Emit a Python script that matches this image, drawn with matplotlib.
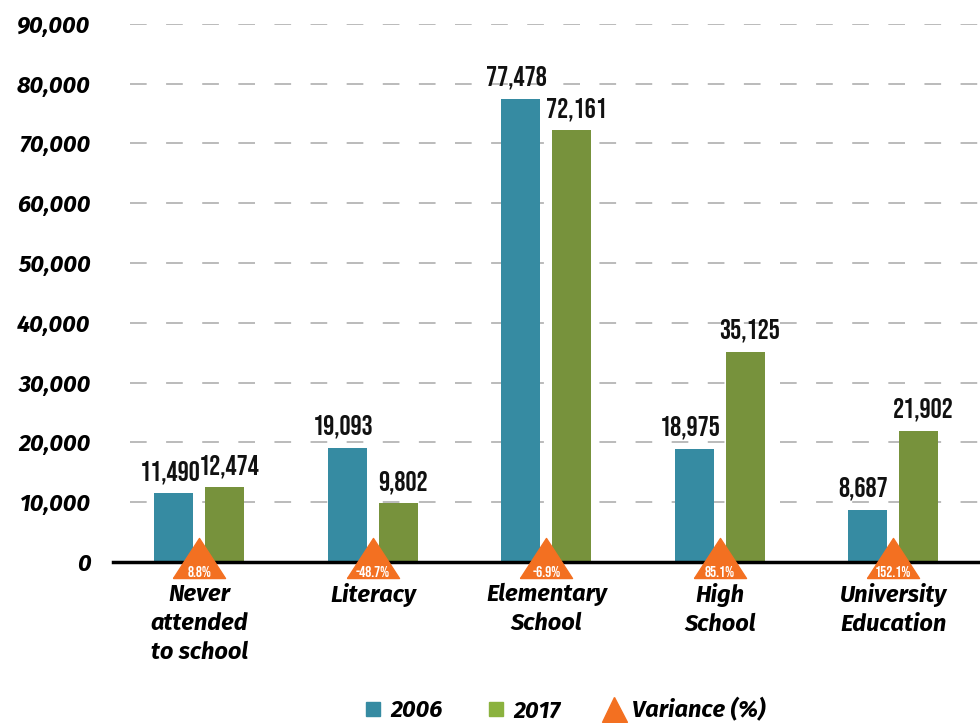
import matplotlib.pyplot as plt
import numpy as np

plt.rcParams['lines.scale_dashes'] = False
plt.rcParams['font.family'] = ['Fira Sans', 'DejaVu Sans']

categories = ['Never\nattended\nto school', 'Literacy', 'Elementary\nSchool', 'High\nSchool', 'University\nEducation']
values_2006 = [11490, 19093, 77478, 18975, 8687]
values_2017 = [12474, 9802, 72161, 35125, 21902]
variance = ['8.8%', '-48.7%', '-6.9%', '85.1%', '152.1%']

c2006 = '#368ba2'
c2017 = '#77923c'
corange = '#f37021'
narrow = ['Bebas Neue', 'DejaVu Sans']

fig = plt.figure(figsize=(9.8, 7.23), dpi=100)
ax = fig.add_axes([0.115, 0.2227, 0.885, 0.7445])

x = np.arange(len(categories))
width = 0.225
off = 0.147

bars_a = ax.bar(x - off, values_2006, width, color=c2006, zorder=3)
bars_b = ax.bar(x + off, values_2017, width, color=c2017, zorder=3)

# value labels, nudged slightly apart
for bars, dx in [(bars_a, -3), (bars_b, 3)]:
    for bar in bars:
        h = bar.get_height()
        ax.annotate(f'{int(h):,}', xy=(bar.get_x() + bar.get_width() / 2, h),
                    xytext=(dx, 7), textcoords='offset points',
                    ha='center', va='bottom', fontsize=20,
                    family=narrow, color='#111111', zorder=5)

# variance triangles on the baseline
tri = [(-0.65, -0.4), (0.65, -0.4), (0.0, 0.6), (-0.65, -0.4)]
ax.plot(x, [0] * len(x), marker=tri, markersize=37.5, linestyle='none',
        color=corange, clip_on=False, zorder=6)
for xi, v in zip(x, variance):
    ax.annotate(v, xy=(xi, 0), xytext=(0, -6.5), textcoords='offset points',
                ha='center', va='center', fontsize=11,
                family=narrow, color='white', zorder=7, annotation_clip=False)

ax.set_xlim(-0.5, len(categories) - 0.5)
ax.set_ylim(0, 90000)
ax.set_yticks(np.arange(0, 90001, 10000))
ax.set_yticklabels([f'{int(t):,}' for t in ax.get_yticks()], fontsize=17,
                   fontweight='bold', style='italic')
ax.set_xticks(x)
ax.set_xticklabels(categories, fontsize=17, fontweight='bold', style='italic',
                   linespacing=1.33, va='top')
ax.tick_params(axis='both', length=0)
ax.tick_params(axis='x', pad=15)
ax.tick_params(axis='y', pad=16)

for s in ['top', 'right', 'left']:
    ax.spines[s].set_visible(False)
ax.spines['bottom'].set_linewidth(2.5)
ax.spines['bottom'].set_zorder(4)

for t in np.arange(10000, 90001, 10000):
    ax.axhline(t, xmin=0.02, color='#b5b5b5', linewidth=1.3, dashes=(12, 14), zorder=1)

# legend
handles = [
    plt.Line2D([], [], marker='s', linestyle='none', markersize=10.5, color=c2006),
    plt.Line2D([], [], marker='s', linestyle='none', markersize=10.5, color='#8bb23f'),
    plt.Line2D([], [], marker='^', linestyle='none', markersize=18, color=corange),
]
fig.legend(handles, ['2006', '2017', 'Variance (%)'], loc='center',
           bbox_to_anchor=(0.575, 0.018), ncol=3, frameon=False,
           prop={'size': 17, 'weight': 'bold', 'style': 'italic'},
           handletextpad=0.3, columnspacing=1.8, handlelength=0.9)

plt.savefig('out.png', dpi=100)
